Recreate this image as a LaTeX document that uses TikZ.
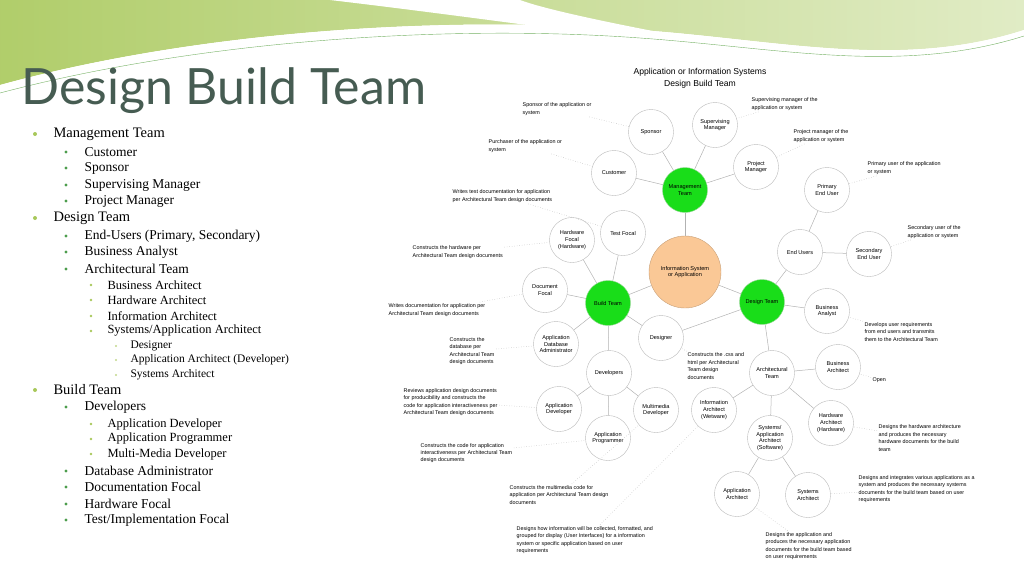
\documentclass[tikz,border=0pt]{standalone}
\usepackage{fontspec}
\setmainfont{Liberation Serif}
\newfontfamily\diagfont{Liberation Sans}
\newfontfamily\titlefont{Lato}
\usetikzlibrary{positioning}
\definecolor{leaf}{RGB}{168,200,90}
\definecolor{titlegray}{RGB}{70,92,82}
\definecolor{peach}{RGB}{250,200,150}
\tikzset{
  role/.style={circle,draw=gray!55,minimum size=45pt,inner sep=0pt,align=center,font=\diagfont\fontsize{5.6}{6.8}\selectfont},
  team/.style={role,fill=green!85!black!90,draw=green!60!black!40},
  core/.style={role,fill=peach,draw=peach!80!black,minimum size=72pt},
  note/.style={anchor=west,align=left,inner sep=1.5pt,font=\diagfont\fontsize{5.4}{7.4}\selectfont},
  link/.style={draw=gray!60,line width=0.5pt},
  hint/.style={draw=gray!55,dotted,line width=0.5pt},
}
\begin{document}
\begin{tikzpicture}[x=1pt,y=-1pt]
  \useasboundingbox (0,0) rectangle (1024,576);
  % background swoosh
  \shade[left color=leaf!90,right color=leaf!35] (0,0) -- (1024,0) -- (1024,30)
    .. controls (900,70) and (780,40) .. (640,30)
    .. controls (450,15) and (200,30) .. (0,85) -- cycle;
  \fill[white] (330,0) .. controls (500,20) and (700,50) .. (780,55)
    .. controls (700,40) and (560,15) .. (520,0) -- cycle;
  \fill[white] (0,85) .. controls (200,30) and (450,15) .. (640,30)
    .. controls (780,40) and (900,70) .. (1024,30) -- (1024,42)
    .. controls (900,80) and (780,55) .. (640,45)
    .. controls (450,32) and (200,45) .. (0,100) -- cycle;
  \draw[leaf!70!teal,line width=0.4pt] (0,93) .. controls (200,40) and (450,24) .. (640,38)
    .. controls (780,48) and (900,75) .. (1024,36);
  \node[anchor=west,text=titlegray,font=\titlefont\fontsize{50}{50}\selectfont] (title) at (18,91) {Design Build Team};
  % bullet list
  \foreach \yy/\lv/\txt in {134/1/Management Team,152/2/Customer,168/2/Sponsor,185/2/Supervising Manager,201/2/Project Manager,
      218/1/Design Team,236/2/{End-Users (Primary, Secondary)},252/2/Business Analyst,269/2/Architectural Team,
      285/3/Business Architect,300/3/Hardware Architect,316/3/Information Architect,331/3/{Systems{/}Application Architect},
      346/4/Designer,360/4/Application Architect (Developer),375/4/Systems Architect,
      390/1/Build Team,407/2/Developers,424/3/Application Developer,439/3/Application Programmer,454/3/Multi-Media Developer,
      471/2/Database Administrator,487/2/Documentation Focal,504/2/Hardware Focal,520/2/{Test{/}Implementation Focal}}{
    \ifcase\lv\or
      \fill[leaf] (35,\yy) circle(2pt);
      \node[anchor=west,font=\fontsize{14.5}{14.5}\selectfont] at (50,\yy) {\txt};
    \or
      \fill[green!45!black!70] (66,\yy) circle(1.7pt);
      \node[anchor=west,font=\fontsize{13.5}{13.5}\selectfont] at (81,\yy) {\txt};
    \or
      \fill[leaf] (91,\yy) circle(1.4pt);
      \node[anchor=west,font=\fontsize{12.5}{12.5}\selectfont] at (104,\yy) {\txt};
    \or
      \fill[leaf!70] (116,\yy) circle(1.2pt);
      \node[anchor=west,font=\fontsize{11.5}{11.5}\selectfont] at (127,\yy) {\txt};
    \fi
  }
  % diagram heading
  \node[align=center,font=\diagfont\fontsize{8.6}{12}\selectfont] (head) at (700,78) {Application or Information Systems\\Design Build Team};
  % teams
  \node[core] (info) at (685,272) {Information System\\or Application};
  \node[team] (mgmt) at (685,190) {Management\\Team};
  \node[team] (build) at (608,303) {Build Team};
  \node[team] (design) at (762,302) {Design Team};
  % management branch
  \node[role] (sponsor) at (651,132) {Sponsor};
  \node[role] (supmgr) at (715,125) {Supervising\\Manager};
  \node[role] (pm) at (756,167) {Project\\Manager};
  \node[role] (customer) at (614,173) {Customer};
  % design branch
  \node[role] (endusers) at (800,252) {End Users};
  \node[role] (primary) at (827,190) {Primary\\End User};
  \node[role] (secondary) at (869,254) {Secondary\\End User};
  \node[role] (analyst) at (827,311) {Business\\Analyst};
  \node[role] (arch) at (772,373) {Architectural\\Team};
  \node[role] (busarch) at (838,367) {Business\\Architect};
  \node[role] (infoarch) at (714,410) {Information\\Architect\\(Wetware)};
  \node[role] (hwarch) at (831,423) {Hardware\\Architect\\(Hardware)};
  \node[role] (sysapp) at (770,438) {Systems/\\Application\\Architect\\(Software)};
  \node[role] (apparch) at (737,494) {Application\\Architect};
  \node[role] (sysarch) at (808,495) {Systems\\Architect};
  % build branch
  \node[role] (test) at (623,233) {Test Focal};
  \node[role] (hwfocal) at (572,240) {Hardware\\Focal\\(Hardware)};
  \node[role] (docfocal) at (545,290) {Document\\Focal};
  \node[role] (dba) at (556,344) {Application\\Database\\Administrator};
  \node[role] (designer) at (661,338) {Designer};
  \node[role] (devs) at (609,373) {Developers};
  \node[role] (appdev) at (559,409) {Application\\Developer};
  \node[role] (mmdev) at (656,410) {Multimedia\\Developer};
  \node[role] (appprog) at (608,438) {Application\\Programmer};
  % connectors
  \foreach \a/\b in {mgmt/sponsor,mgmt/supmgr,mgmt/pm,mgmt/customer,mgmt/info,info/build,info/design,
      design/endusers,endusers/primary,endusers/secondary,design/analyst,design/arch,design/designer,
      arch/busarch,arch/infoarch,arch/hwarch,arch/sysapp,sysapp/apparch,sysapp/sysarch,
      build/test,build/hwfocal,build/docfocal,build/dba,build/devs,build/designer,
      devs/appdev,devs/mmdev,devs/appprog}
    \draw[link] (\a) -- (\b);
  % notes
  \node[note] (nsponsor) at (521,109) {Sponsor of the application or\\system};
  \node[note] (ncustomer) at (487,146) {Purchaser of the application or\\system};
  \node[note] (ntest) at (451,196) {Writes test documentation for application\\per Architectural Team design documents};
  \node[note] (nhw) at (411,252) {Constructs the hardware per\\Architectural Team design documents};
  \node[note] (ndoc) at (387,310) {Writes documentation for application per\\Architectural Team design documents};
  \node[note] (ndba) at (448,351) {Constructs the\\database per\\Architectural Team\\design documents};
  \node[note] (nappdev) at (402,402) {Reviews application design documents\\for producibility and constructs the\\code for application interactiveness per\\Architectural Team design documents};
  \node[note] (nappprog) at (419,453) {Constructs the code for application\\interactiveness per Architectural Team\\design documents};
  \node[note] (nmm) at (508,495) {Constructs the multimedia code for\\application per Architectural Team design\\documents};
  \node[note] (ninfo) at (515,540) {Designs how information will be collected, formatted, and\\grouped for display (User Interfaces) for a information\\system or specific application based on user\\requirements};
  \node[note] (ndesigner) at (686,366) {Constructs the .css and\\html per Architectural\\Team design\\documents};
  \node[note] (nsupmgr) at (750,104) {Supervising manager of the\\application or system};
  \node[note] (npm) at (792,136) {Project manager of the\\application or system};
  \node[note] (nprimary) at (866,168) {Primary user of the application\\or system};
  \node[note] (nsecondary) at (906,232) {Secondary user of the\\application or system};
  \node[note] (nanalyst) at (863,332) {Develops user requirements\\from end users and transmits\\them to the Architectural Team};
  \node[note] (nbusarch) at (871,380) {Open};
  \node[note] (nhwarch) at (877,438) {Designs the hardware architecture\\and produces the necessary\\hardware documents for the build\\team};
  \node[note] (nsysarch) at (857,489) {Designs and integrates various applications as a\\system and produces the necessary systems\\documents for the build team based on user\\requirements};
  \node[note] (napparch) at (764,546) {Designs the application and\\produces the necessary application\\documents for the build team based\\on user requirements};
  \foreach \n/\r in {nsponsor/sponsor,ncustomer/customer,ntest/test,nhw/hwfocal,ndoc/docfocal,ndba/dba,
      nappdev/appdev,nappprog/appprog,nmm/mmdev,ninfo/infoarch,ndesigner/designer,nsupmgr/supmgr,npm/pm,
      nprimary/primary,nsecondary/secondary,nanalyst/analyst,nbusarch/busarch,nhwarch/hwarch,
      nsysarch/sysarch,napparch/apparch}
    \draw[hint] (\n) -- (\r);
\end{tikzpicture}
\end{document}
